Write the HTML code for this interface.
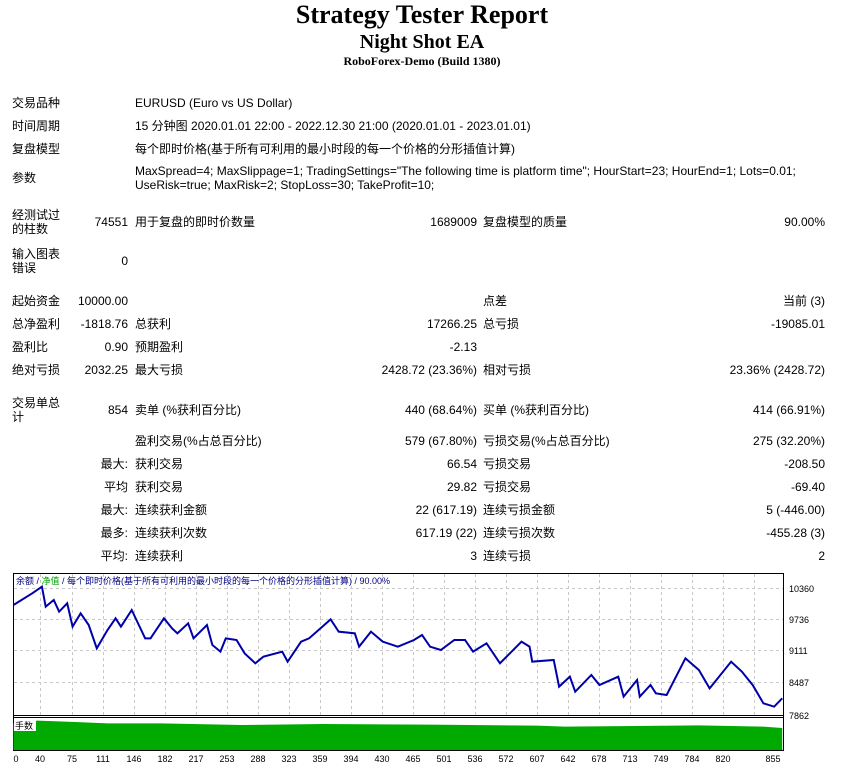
<!DOCTYPE html>
<html><head><meta charset="utf-8"><style>
body{margin:0;width:844px;height:770px;background:#fff;position:relative;overflow:hidden;font-family:"Liberation Sans","Noto Sans CJK SC",sans-serif;font-size:12px;color:#000}
.t{position:absolute;white-space:nowrap;line-height:14px}
.r{text-align:right}
.h{position:absolute;left:0;width:844px;text-align:center;font-family:"Liberation Serif",serif;font-weight:bold}
</style></head><body>
<div class="h" style="top:0;font-size:26px;line-height:30px">Strategy Tester Report</div>
<div class="h" style="top:30px;font-size:20px;line-height:24px">Night Shot EA</div>
<div class="h" style="top:54px;font-size:12px;line-height:15px">RoboForex-Demo (Build 1380)</div>

<div class="t" style="left:12px;top:96px">交易品种</div><div class="t" style="left:135px;top:96px">EURUSD (Euro vs US Dollar)</div>
<div class="t" style="left:12px;top:119px">时间周期</div><div class="t" style="left:135px;top:119px">15 分钟图 2020.01.01 22:00 - 2022.12.30 21:00 (2020.01.01 - 2023.01.01)</div>
<div class="t" style="left:12px;top:142px">复盘模型</div><div class="t" style="left:135px;top:142px">每个即时价格(基于所有可利用的最小时段的每一个价格的分形插值计算)</div>
<div class="t" style="left:12px;top:171px">参数</div><div class="t" style="left:135px;top:164px">MaxSpread=4; MaxSlippage=1; TradingSettings="The following time is platform time"; HourStart=23; HourEnd=1; Lots=0.01;<br>UseRisk=true; MaxRisk=2; StopLoss=30; TakeProfit=10;</div>

<div class="t" style="left:12px;top:208px">经测试过<br>的柱数</div><div class="t r" style="right:716px;top:215px">74551</div><div class="t" style="left:135px;top:215px">用于复盘的即时价数量</div><div class="t r" style="right:367px;top:215px">1689009</div><div class="t" style="left:483px;top:215px">复盘模型的质量</div><div class="t r" style="right:19px;top:215px">90.00%</div>
<div class="t" style="left:12px;top:247px">输入图表<br>错误</div><div class="t r" style="right:716px;top:254px">0</div>

<div class="t" style="left:12px;top:294px">起始资金</div><div class="t r" style="right:716px;top:294px">10000.00</div><div class="t" style="left:483px;top:294px">点差</div><div class="t r" style="right:19px;top:294px">当前 (3)</div>
<div class="t" style="left:12px;top:317px">总净盈利</div><div class="t r" style="right:716px;top:317px">-1818.76</div><div class="t" style="left:135px;top:317px">总获利</div><div class="t r" style="right:367px;top:317px">17266.25</div><div class="t" style="left:483px;top:317px">总亏损</div><div class="t r" style="right:19px;top:317px">-19085.01</div>
<div class="t" style="left:12px;top:340px">盈利比</div><div class="t r" style="right:716px;top:340px">0.90</div><div class="t" style="left:135px;top:340px">预期盈利</div><div class="t r" style="right:367px;top:340px">-2.13</div>
<div class="t" style="left:12px;top:363px">绝对亏损</div><div class="t r" style="right:716px;top:363px">2032.25</div><div class="t" style="left:135px;top:363px">最大亏损</div><div class="t r" style="right:367px;top:363px">2428.72 (23.36%)</div><div class="t" style="left:483px;top:363px">相对亏损</div><div class="t r" style="right:19px;top:363px">23.36% (2428.72)</div>

<div class="t" style="left:12px;top:396px">交易单总<br>计</div><div class="t r" style="right:716px;top:403px">854</div><div class="t" style="left:135px;top:403px">卖单 (%获利百分比)</div><div class="t r" style="right:367px;top:403px">440 (68.64%)</div><div class="t" style="left:483px;top:403px">买单 (%获利百分比)</div><div class="t r" style="right:19px;top:403px">414 (66.91%)</div>
<div class="t" style="left:135px;top:434px">盈利交易(%占总百分比)</div><div class="t r" style="right:367px;top:434px">579 (67.80%)</div><div class="t" style="left:483px;top:434px">亏损交易(%占总百分比)</div><div class="t r" style="right:19px;top:434px">275 (32.20%)</div>
<div class="t r" style="right:716px;top:457px">最大:</div><div class="t" style="left:135px;top:457px">获利交易</div><div class="t r" style="right:367px;top:457px">66.54</div><div class="t" style="left:483px;top:457px">亏损交易</div><div class="t r" style="right:19px;top:457px">-208.50</div>
<div class="t r" style="right:716px;top:480px">平均</div><div class="t" style="left:135px;top:480px">获利交易</div><div class="t r" style="right:367px;top:480px">29.82</div><div class="t" style="left:483px;top:480px">亏损交易</div><div class="t r" style="right:19px;top:480px">-69.40</div>
<div class="t r" style="right:716px;top:503px">最大:</div><div class="t" style="left:135px;top:503px">连续获利金额</div><div class="t r" style="right:367px;top:503px">22 (617.19)</div><div class="t" style="left:483px;top:503px">连续亏损金额</div><div class="t r" style="right:19px;top:503px">5 (-446.00)</div>
<div class="t r" style="right:716px;top:526px">最多:</div><div class="t" style="left:135px;top:526px">连续获利次数</div><div class="t r" style="right:367px;top:526px">617.19 (22)</div><div class="t" style="left:483px;top:526px">连续亏损次数</div><div class="t r" style="right:19px;top:526px">-455.28 (3)</div>
<div class="t r" style="right:716px;top:549px">平均:</div><div class="t" style="left:135px;top:549px">连续获利</div><div class="t r" style="right:367px;top:549px">3</div><div class="t" style="left:483px;top:549px">连续亏损</div><div class="t r" style="right:19px;top:549px">2</div>

<svg style="position:absolute;left:0;top:0" width="844" height="770">
<rect x="13.5" y="573.5" width="770" height="177" fill="#fff" stroke="#000"/>
<line x1="13" y1="715.5" x2="784" y2="715.5" stroke="#000"/>
<line x1="13" y1="717.5" x2="784" y2="717.5" stroke="#000"/>
<g stroke="#c8c8c8" stroke-dasharray="3,3">
<line x1="14" y1="588.5" x2="783" y2="588.5"/><line x1="14" y1="619.5" x2="783" y2="619.5"/><line x1="14" y1="650.5" x2="783" y2="650.5"/><line x1="14" y1="682.5" x2="783" y2="682.5"/>
<line x1="40.5" y1="574" x2="40.5" y2="715"/><line x1="72.5" y1="574" x2="72.5" y2="715"/><line x1="103.5" y1="574" x2="103.5" y2="715"/><line x1="134.5" y1="574" x2="134.5" y2="715"/><line x1="165.5" y1="574" x2="165.5" y2="715"/><line x1="196.5" y1="574" x2="196.5" y2="715"/><line x1="227.5" y1="574" x2="227.5" y2="715"/><line x1="258.5" y1="574" x2="258.5" y2="715"/><line x1="289.5" y1="574" x2="289.5" y2="715"/><line x1="320.5" y1="574" x2="320.5" y2="715"/><line x1="351.5" y1="574" x2="351.5" y2="715"/><line x1="382.5" y1="574" x2="382.5" y2="715"/><line x1="413.5" y1="574" x2="413.5" y2="715"/><line x1="444.5" y1="574" x2="444.5" y2="715"/><line x1="475.5" y1="574" x2="475.5" y2="715"/><line x1="506.5" y1="574" x2="506.5" y2="715"/><line x1="537.5" y1="574" x2="537.5" y2="715"/><line x1="568.5" y1="574" x2="568.5" y2="715"/><line x1="599.5" y1="574" x2="599.5" y2="715"/><line x1="630.5" y1="574" x2="630.5" y2="715"/><line x1="661.5" y1="574" x2="661.5" y2="715"/><line x1="692.5" y1="574" x2="692.5" y2="715"/><line x1="723.5" y1="574" x2="723.5" y2="715"/><line x1="754.5" y1="574" x2="754.5" y2="715"/>
</g>
<g transform="translate(0,570) scale(0.5376,0.3333)">
<polyline vector-effect="non-scaling-stroke" fill="none" stroke="#0000aa" stroke-width="2" points="25,105 60,70 78,50 85,110 100,90 110,125 125,100 135,170 150,130 165,165 180,235 200,180 215,145 225,170 245,120 270,205 280,205 305,145 320,175 330,190 350,160 360,205 385,165 395,225 410,245 420,205 440,210 455,250 475,280 490,260 525,245 535,275 560,215 575,205 615,148 630,185 660,190 668,230 690,185 712,215 740,230 770,210 785,195 800,230 820,240 845,210 865,210 880,245 905,220 930,280 970,215 985,230 990,275 1030,270 1040,350 1060,320 1070,365 1100,315 1115,345 1150,320 1160,380 1185,330 1190,380 1210,345 1220,370 1240,375 1275,265 1300,300 1320,355 1360,275 1380,305 1385,315 1400,345 1420,400 1440,410 1455,385"/>
<polygon fill="#00aa00" points="25,460 70,452 140,456 200,460 300,460 450,465 600,462 800,464 1000,467 1050,470 1300,466 1420,470 1455,474 1455,540 25,540"/>
</g>
<rect x="14" y="720" width="22" height="11" fill="#fff"/>
<text x="15" y="729" font-size="9" font-family="Noto Sans CJK SC,sans-serif">手数</text>
<text x="16" y="584" font-size="9" font-family="Liberation Sans,Noto Sans CJK SC,sans-serif" fill="#000080">余额 / <tspan fill="#00a000">净值</tspan> / 每个即时价格(基于所有可利用的最小时段的每一个价格的分形插值计算) / 90.00%</text>
<g font-size="9" font-family="Liberation Sans,sans-serif">
<text x="789" y="592">10360</text><text x="789" y="623">9736</text><text x="789" y="654">9111</text><text x="789" y="686">8487</text><text x="789" y="719">7862</text>
</g>
<g font-size="9" font-family="Liberation Sans,sans-serif" text-anchor="middle">
<text x="16" y="762">0</text><text x="40" y="762">40</text><text x="72" y="762">75</text><text x="103" y="762">111</text><text x="134" y="762">146</text><text x="165" y="762">182</text><text x="196" y="762">217</text><text x="227" y="762">253</text><text x="258" y="762">288</text><text x="289" y="762">323</text><text x="320" y="762">359</text><text x="351" y="762">394</text><text x="382" y="762">430</text><text x="413" y="762">465</text><text x="444" y="762">501</text><text x="475" y="762">536</text><text x="506" y="762">572</text><text x="537" y="762">607</text><text x="568" y="762">642</text><text x="599" y="762">678</text><text x="630" y="762">713</text><text x="661" y="762">749</text><text x="692" y="762">784</text><text x="723" y="762">820</text><text x="773" y="762">855</text>
</g>
</svg>
</body></html>
